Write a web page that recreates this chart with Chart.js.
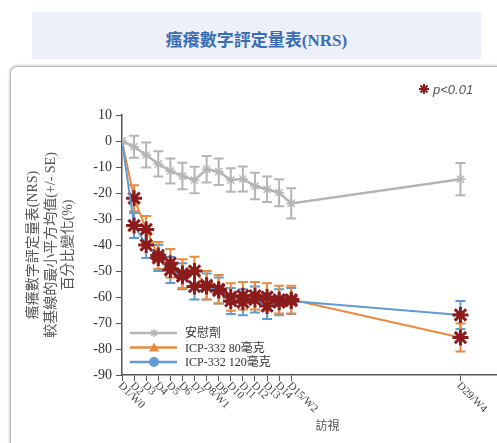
<!DOCTYPE html>
<html>
<head>
<meta charset="utf-8">
<script src="https://cdn.jsdelivr.net/npm/chart.js@4.4.1/dist/chart.umd.min.js"></script>
<style>
  html, body { margin: 0; padding: 0; background: #fff; width: 497px; height: 443px; overflow: hidden; }
  #title {
    position: absolute; left: 32px; top: 12px; width: 449px; height: 47px;
    background: #edf0f9; color: #3b6db2; text-align: center; overflow: hidden;
    font: bold 17px "Liberation Serif", "Noto Sans CJK TC", serif;
    line-height: 57px;
  }
  #card {
    position: absolute; left: 10px; top: 66px; width: 560px; height: 420px;
    border: 1px solid #bdb9b5; border-radius: 7px; background: #fff;
    box-shadow: 0 0 3px rgba(0, 0, 0, 0.35);
  }
  #wrap { position: absolute; left: 0; top: 0; width: 544px; height: 443px; }
</style>
</head>
<body>
<div id="title">瘙癢數字評定量表(NRS)</div>
<div id="card"></div>
<div id="wrap"><canvas id="nrsChart" width="544" height="443"></canvas></div>
<script>
'use strict';
// visit days and their tick labels
const days = [1, 2, 3, 4, 5, 6, 7, 8, 9, 10, 11, 12, 13, 14, 15, 29];
const tickLabels = ['D1/W0', 'D2', 'D3', 'D4', 'D5', 'D6', 'D7', 'D8/W1', 'D9', 'D10',
  'D11', 'D12', 'D13', 'D14', 'D15/W2', 'D29/W4'];
const yTicks = [10, 0, -10, -20, -30, -40, -50, -60, -70, -80, -90];

// LS mean % change from baseline, with SE
const placebo = [0, -2.2, -5.4, -8.8, -11.5, -13.5, -15, -10.9, -11.8, -15, -14.6, -17.3, -18.6, -19.9, -24, -14.7];
const placeboSE = [0, 4.2, 4.8, 4.9, 4.8, 5.1, 5.1, 5.1, 5.1, 4.5, 4.8, 5.1, 4.9, 5.2, 5.8, 6.2];
const dose80 = [0, -22, -34, -44, -47, -51, -50, -55.5, -57, -60, -59.5, -59.5, -60, -61, -61, -75.6];
const dose80SE = [0, 5, 5.2, 5.2, 5.5, 5.5, 5.5, 5.5, 5.5, 5.3, 5.3, 5.3, 5.3, 5.3, 5.3, 5.4];
const dose120 = [0, -32.5, -40, -45, -49.6, -52, -56, -56, -57.5, -61.5, -62, -61, -63.5, -62, -61.5, -66.9];
const dose120SE = [0, 4.8, 5, 5, 5, 5, 5, 5, 5, 5, 5, 5, 5, 5, 5, 5.4];

const GRAY = '#b5b5b5';
const ORANGE = '#e98a3f';
const BLUE = '#5f9bd3';
const STAR = '#8c1c1c';
const SERIF = '"Liberation Serif", "Noto Sans CJK TC", serif';

const toPoints = (vals) => vals.map((v, i) => ({x: days[i], y: v}));
const starRadius = (ctx) => (ctx.dataIndex === 0 ? 0 : 8);

// error bars drawn under the lines
const errorBars = {
  id: 'errorBars',
  beforeDatasetsDraw(chart) {
    const {ctx, scales: {x, y}} = chart;
    chart.data.datasets.forEach((ds) => {
      ctx.save();
      ctx.strokeStyle = ds.borderColor;
      ctx.lineWidth = 2;
      ds.data.forEach((p, i) => {
        const se = ds.se[i];
        if (!se) return;
        const px = x.getPixelForValue(p.x);
        const top = y.getPixelForValue(p.y + se);
        const bot = y.getPixelForValue(p.y - se);
        ctx.beginPath();
        ctx.moveTo(px, top); ctx.lineTo(px, bot);
        ctx.moveTo(px - 5, top); ctx.lineTo(px + 5, top);
        ctx.moveTo(px - 5, bot); ctx.lineTo(px + 5, bot);
        ctx.stroke();
      });
      ctx.restore();
    });
  },
};

const drawStar = (ctx, cx, cy, r, color, width) => {
  ctx.save();
  ctx.strokeStyle = color;
  ctx.lineWidth = width;
  ctx.beginPath();
  for (let k = 0; k < 4; k++) {
    const a = k * Math.PI / 4;
    ctx.moveTo(cx - r * Math.cos(a), cy - r * Math.sin(a));
    ctx.lineTo(cx + r * Math.cos(a), cy + r * Math.sin(a));
  }
  ctx.stroke();
  ctx.restore();
};

// rotated x labels, legend box and p-value note
const extras = {
  id: 'extras',
  afterDraw(chart) {
    const {ctx, chartArea, scales: {x}} = chart;
    ctx.save();
    ctx.fillStyle = '#444';
    ctx.font = '11px ' + SERIF;
    ctx.textAlign = 'left';
    ctx.textBaseline = 'middle';
    days.forEach((d, i) => {
      const px = x.getPixelForValue(d);
      ctx.save();
      ctx.translate(px - 2, chartArea.bottom + 9);
      ctx.rotate(Math.PI / 4);
      ctx.fillText(tickLabels[i], 0, 0);
      ctx.restore();
    });

    // legend
    const rows = [
      {label: '安慰劑', color: GRAY, marker: 'star'},
      {label: 'ICP-332 80毫克', color: ORANGE, marker: 'triangle'},
      {label: 'ICP-332 120毫克', color: BLUE, marker: 'circle'},
    ];
    const lx = chartArea.left + 8;
    rows.forEach((r, i) => {
      const ly = chartArea.bottom - 42 + i * 14.5;
      ctx.strokeStyle = r.color;
      ctx.fillStyle = r.color;
      ctx.lineWidth = 2.5;
      ctx.beginPath();
      ctx.moveTo(lx, ly); ctx.lineTo(lx + 47, ly);
      ctx.stroke();
      const mx = lx + 24;
      if (r.marker === 'star') {
        drawStar(ctx, mx, ly, 4, r.color, 1.5);
      } else if (r.marker === 'triangle') {
        ctx.beginPath();
        ctx.moveTo(mx, ly - 5); ctx.lineTo(mx + 5, ly + 4); ctx.lineTo(mx - 5, ly + 4);
        ctx.closePath(); ctx.fill();
      } else {
        ctx.beginPath(); ctx.arc(mx, ly, 5, 0, Math.PI * 2); ctx.fill();
      }
      ctx.fillStyle = '#333';
      ctx.font = '12px ' + SERIF;
      ctx.fillText(r.label, lx + 55, ly + 1);
    });

    // significance note
    drawStar(ctx, 424, 89, 5, STAR, 2);
    ctx.fillStyle = '#555';
    ctx.font = 'italic 13px "Liberation Sans", sans-serif';
    ctx.fillText('p<0.01', 433, 90);
    ctx.restore();
  },
};

const chart = new Chart(document.getElementById('nrsChart'), {
  type: 'line',
  data: {
    datasets: [
      {
        label: '安慰劑',
        data: toPoints(placebo),
        se: placeboSE,
        borderColor: GRAY,
        borderWidth: 2.5,
        pointStyle: 'star',
        pointRadius: 5,
        pointBorderColor: GRAY,
        pointBorderWidth: 1.5,
      },
      {
        label: 'ICP-332 120毫克',
        data: toPoints(dose120),
        se: dose120SE,
        borderColor: BLUE,
        borderWidth: 2,
        pointStyle: 'star',
        pointRadius: starRadius,
        pointBorderColor: STAR,
        pointBorderWidth: 3,
      },
      {
        label: 'ICP-332 80毫克',
        data: toPoints(dose80),
        se: dose80SE,
        borderColor: ORANGE,
        borderWidth: 2,
        pointStyle: 'star',
        pointRadius: starRadius,
        pointBorderColor: STAR,
        pointBorderWidth: 3,
      },
    ],
  },
  options: {
    responsive: false,
    animation: false,
    layout: {padding: {top: 115, right: 8, left: 0, bottom: 0}},
    plugins: {legend: {display: false}, tooltip: {enabled: false}},
    scales: {
      x: {
        type: 'linear',
        min: 1,
        max: 35,
        afterBuildTicks: (s) => { s.ticks = days.map((d) => ({value: d})); },
        afterFit: (s) => { s.height = 68; },
        ticks: {autoSkip: false, callback: () => ''},
        grid: {drawOnChartArea: false, tickLength: 6, color: '#555'},
        border: {color: '#555', width: 1.5},
        title: {
          display: true,
          text: '訪視',
          color: '#555',
          font: {family: SERIF, size: 12},
          padding: {top: 0, bottom: 9},
        },
      },
      y: {
        min: -90,
        max: 10,
        afterBuildTicks: (s) => { s.ticks = yTicks.map((v) => ({value: v})); },
        afterFit: (s) => { s.width = 122; },
        ticks: {color: '#333', font: {family: SERIF, size: 14}, padding: 4},
        grid: {drawOnChartArea: false, tickLength: 6, color: '#555'},
        border: {color: '#555', width: 1.5},
        title: {
          display: true,
          text: ['瘙癢數字評定量表(NRS)', '較基線的最小平方均值(+/- SE)', '百分比變化(%)'],
          color: '#555',
          font: {family: SERIF, size: 14, lineHeight: 1.25},
          padding: {top: 25, bottom: 0},
        },
      },
    },
  },
  plugins: [errorBars, extras],
});
</script>
</body>
</html>
